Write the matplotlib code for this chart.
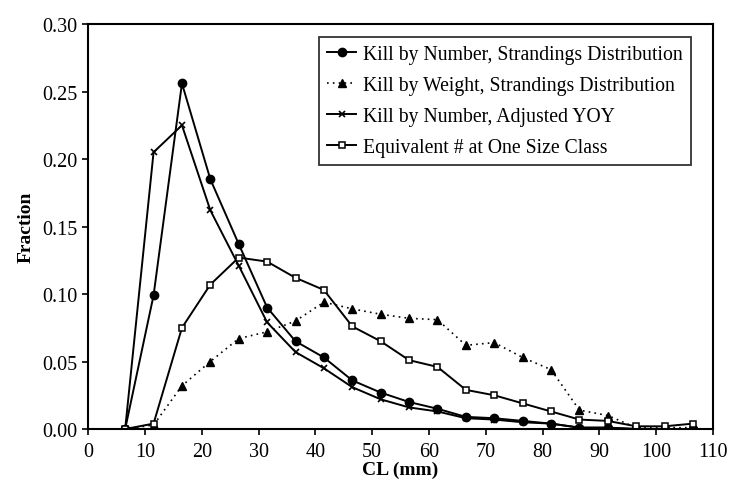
import matplotlib
matplotlib.use("Agg")
import matplotlib.pyplot as plt

plt.rcParams['font.family'] = ['Liberation Serif', 'DejaVu Serif']

cl_mm = [6.5, 11.5, 16.5, 21.5, 26.5, 31.5, 36.5, 41.5, 46.5, 51.5, 56.5,
         61.5, 66.5, 71.5, 76.5, 81.5, 86.5, 91.5, 96.5, 101.5, 106.5]

kill_number = [0.0, 0.099, 0.256, 0.185, 0.137, 0.090, 0.065, 0.053, 0.036, 0.027, 0.020,
               0.015, 0.009, 0.008, 0.006, 0.004, 0.001, 0.001, 0.0, 0.0, 0.0]
kill_weight = [0.0, 0.003, 0.032, 0.050, 0.067, 0.072, 0.080, 0.094, 0.089, 0.085, 0.082,
               0.081, 0.062, 0.064, 0.053, 0.044, 0.014, 0.010, 0.001, 0.001, 0.001]
kill_yoy = [0.0, 0.205, 0.225, 0.162, 0.121, 0.079, 0.057, 0.045, 0.031, 0.022, 0.016,
            0.013, 0.008, 0.007, 0.005, 0.004, 0.001, 0.001, 0.0, 0.0, 0.0]
equiv_one = [0.0, 0.004, 0.075, 0.107, 0.127, 0.124, 0.112, 0.103, 0.076, 0.065, 0.051,
             0.046, 0.029, 0.025, 0.019, 0.013, 0.007, 0.006, 0.002, 0.002, 0.004]

labels = ["Kill by Number, Strandings Distribution",
          "Kill by Weight, Strandings Distribution",
          "Kill by Number, Adjusted YOY",
          "Equivalent # at One Size Class"]

fig = plt.figure(figsize=(7.48, 4.81), dpi=100)
ax = fig.add_axes([0.118, 0.106, 0.835, 0.842])

ax.plot(cl_mm, kill_number, color='black', lw=1.4, marker='o', ms=6, label=labels[0])
ax.plot(cl_mm, kill_weight, color='black', lw=1.2, ls=(0, (1, 2.5)), marker='^', ms=5.5,
        label=labels[1])
ax.plot(cl_mm, kill_yoy, color='black', lw=1.4, marker='x', ms=4.5, mew=1.2, label=labels[2])
ax.plot(cl_mm, equiv_one, color='black', lw=1.4, marker='s', ms=4.8, mfc='white', mew=1.1,
        label=labels[3])

ax.set_xlim(0, 110)
ax.set_ylim(0, 0.30)
ax.set_xticks(range(0, 111, 10))
ax.set_yticks([0.0, 0.05, 0.10, 0.15, 0.20, 0.25, 0.30])
ax.set_yticklabels(['0.00', '0.05', '0.10', '0.15', '0.20', '0.25', '0.30'])
ax.tick_params(axis='both', direction='out', length=4, width=1.2, labelsize=14.5, colors='black')
ax.tick_params(axis='x', pad=5)
for s in ax.spines.values():
    s.set_linewidth(1.5)
    s.set_color('black')

ax.set_xlabel('CL (mm)', fontsize=14, fontweight='bold', labelpad=0)
ax.set_ylabel('Fraction', fontsize=14, fontweight='bold', labelpad=6)

leg = ax.legend(loc='upper right', bbox_to_anchor=(0.965, 0.967), borderaxespad=0,
                fontsize=14.2, frameon=True, fancybox=False, edgecolor='black',
                handlelength=1.5, handletextpad=0.35, borderpad=0.4, labelspacing=0.6)
leg.get_frame().set_linewidth(1.3)

fig.savefig('out.png', dpi=100)
